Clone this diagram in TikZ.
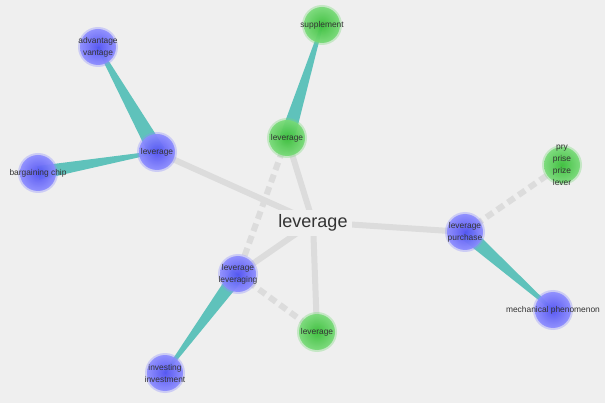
\documentclass[tikz,border=0pt]{standalone}
\usepackage{fontspec}
\setmainfont{Liberation Sans}
\usetikzlibrary{calc}
\definecolor{bg}{HTML}{EFEFEF}
\definecolor{edgegray}{HTML}{DCDCDC}
\definecolor{teal1}{HTML}{5FC2BB}
\definecolor{txt}{HTML}{333333}
\definecolor{bluein}{HTML}{5050F2}
\definecolor{blueout}{HTML}{8C8CFF}
\definecolor{greenin}{HTML}{38BE38}
\definecolor{greenout}{HTML}{78DA78}
\begin{document}
\begin{tikzpicture}[x=1pt,y=-1pt,
  gline/.style={draw=edgegray,line width=6pt},
  gdash/.style={draw=edgegray,line width=6pt,dash pattern=on 8pt off 5pt},
  wedge/.style={fill=teal1,draw=none},
  bnode/.style={circle,minimum size=36pt,inner sep=0pt,inner color=bluein,outer color=blueout,fill opacity=0.92,
     label={[txt,align=center,font=\fontsize{8.4}{12}\selectfont,text opacity=1]center:#1}},
  gnode/.style={circle,minimum size=36pt,inner sep=0pt,inner color=greenin,outer color=greenout,fill opacity=0.92,
     label={[txt,align=center,font=\fontsize{8.4}{12}\selectfont,text opacity=1]center:#1}},
  halo/.style={fill=#1,fill opacity=0.35,draw=none}
]
\fill[bg] (0,0) rectangle (605,403);
\useasboundingbox (0,0) rectangle (605,403);
% centers
\coordinate (cAdv) at (98,47);
\coordinate (cLevA) at (157,152);
\coordinate (cBarg) at (38,173);
\coordinate (cSupp) at (322,25);
\coordinate (cLevG) at (287,138);
\coordinate (cMain) at (313,222);
\coordinate (cPry) at (562,165);
\coordinate (cPur) at (465,232);
\coordinate (cMech) at (553,310);
\coordinate (cLvg) at (238,274);
\coordinate (cLevB) at (317,332);
\coordinate (cInv) at (165,373);
% gray edges
\draw[gline] (cMain) -- (cLevA);
\draw[gline] (cMain) -- (cPur);
\draw[gline] (cMain) -- (cLvg);
\draw[gline] (cMain) -- (cLevG);
\draw[gline] (cMain) -- (cLevB);
\draw[gdash] (cLevG) -- (cLvg);
\draw[gdash] (cLvg) -- (cLevB);
\draw[gdash] (cPur) -- (cPry);
% teal tapered edges
\fill[wedge] ($(cLevA)!8.5pt!90:(cAdv)$) -- ($(cLevA)!8.5pt!-90:(cAdv)$) -- ($(cAdv)!1.5pt!90:(cLevA)$) -- ($(cAdv)!1.5pt!-90:(cLevA)$) -- cycle;
\fill[wedge] ($(cBarg)!7pt!90:(cLevA)$) -- ($(cBarg)!7pt!-90:(cLevA)$) -- ($(cLevA)!1.2pt!90:(cBarg)$) -- ($(cLevA)!1.2pt!-90:(cBarg)$) -- cycle;
\fill[wedge] ($(cLevG)!7.5pt!90:(cSupp)$) -- ($(cLevG)!7.5pt!-90:(cSupp)$) -- ($(cSupp)!1.2pt!90:(cLevG)$) -- ($(cSupp)!1.2pt!-90:(cLevG)$) -- cycle;
\fill[wedge] ($(cPur)!7.5pt!90:(cMech)$) -- ($(cPur)!7.5pt!-90:(cMech)$) -- ($(cMech)!1.2pt!90:(cPur)$) -- ($(cMech)!1.2pt!-90:(cPur)$) -- cycle;
\fill[wedge] ($(cLvg)!7.5pt!90:(cInv)$) -- ($(cLvg)!7.5pt!-90:(cInv)$) -- ($(cInv)!1.2pt!90:(cLvg)$) -- ($(cInv)!1.2pt!-90:(cLvg)$) -- cycle;
% halos
\foreach \c in {cAdv,cLevA,cBarg,cPur,cMech,cLvg,cInv} {\fill[halo=blueout] (\c) circle (20pt);}
\foreach \c in {cSupp,cLevG,cPry,cLevB} {\fill[halo=greenout] (\c) circle (20pt);}
% nodes
\node[bnode={advantage\\vantage}] (adv) at (cAdv) {};
\node[bnode={leverage}] (levA) at (cLevA) {};
\node[bnode={bargaining chip}] (barg) at (cBarg) {};
\node[gnode={supplement}] (supp) at (cSupp) {};
\node[gnode={leverage}] (levG) at (cLevG) {};
\node[gnode={pry\\prise\\prize\\lever}] (pry) at (cPry) {};
\node[bnode={leverage\\purchase}] (pur) at (cPur) {};
\node[bnode={mechanical phenomenon}] (mech) at (cMech) {};
\node[bnode={leverage\\leveraging}] (lvg) at (cLvg) {};
\node[gnode={leverage}] (levB) at (cLevB) {};
\node[bnode={investing\\investment}] (inv) at (cInv) {};
\node[fill=bg,text=txt,font=\fontsize{18}{20}\selectfont,inner xsep=4pt,inner ysep=5pt,yshift=-1pt] (main) at (cMain) {leverage};
\end{tikzpicture}
\end{document}
